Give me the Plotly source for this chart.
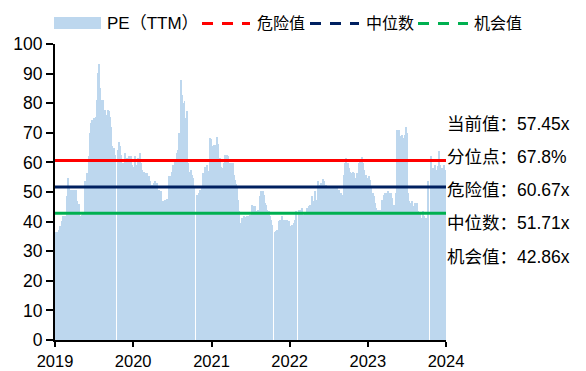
import pandas as pd
import plotly.graph_objects as go

# PE (TTM) series; None marks market holidays with no quote
dates = [
    "2019-01-02", "2019-01-07", "2019-01-15", "2019-01-23", "2019-01-31", "2019-02-04", "2019-02-09",
    "2019-02-15", "2019-02-23", "2019-02-26", "2019-03-02", "2019-03-07", "2019-03-14", "2019-03-20",
    "2019-03-23", "2019-03-26", "2019-03-30", "2019-04-06", "2019-04-11", "2019-04-18", "2019-04-26",
    "2019-05-04", "2019-05-09", "2019-05-13",
    "2019-05-19", "2019-05-27", "2019-05-30", "2019-06-07", "2019-06-12", "2019-06-16", "2019-06-21",
    "2019-06-27", "2019-07-02", "2019-07-08", "2019-07-13", "2019-07-18", "2019-07-24", "2019-07-28",
    "2019-08-02", "2019-08-08", "2019-08-13", "2019-08-18", "2019-08-24", "2019-08-29", "2019-09-02",
    "2019-09-09", "2019-09-13", "2019-09-18", "2019-09-24", "2019-09-29", "2019-10-03", "2019-10-08",
    "2019-10-13",
    "2019-10-19", "2019-10-25", "2019-10-30", "2019-11-04", "2019-11-10", "2019-11-14", "2019-11-22",
    "2019-11-30", "2019-12-11", "2019-12-19", "2019-12-24", "2019-12-31", "2020-01-05", "2020-01-11",
    "2020-01-19", "2020-01-27", "2020-01-31", "2020-02-05", "2020-02-11", "2020-02-16", "2020-02-21",
    "2020-02-26",
    "2020-03-03", "2020-03-10", "2020-03-18", "2020-03-26", "2020-04-03", "2020-04-11", "2020-04-18",
    "2020-04-26", "2020-05-04", "2020-05-09", "2020-05-13",
    "2020-05-19", "2020-05-27", "2020-06-04", "2020-06-12", "2020-06-20", "2020-06-28", "2020-07-05",
    "2020-07-13", "2020-07-21", "2020-07-26", "2020-07-28", "2020-08-02", "2020-08-07", "2020-08-11",
    "2020-08-16", "2020-08-21", "2020-08-26", "2020-08-30", "2020-09-04", "2020-09-09", "2020-09-13",
    "2020-09-18", "2020-09-23", "2020-09-29", "2020-10-06", "2020-10-11", "2020-10-16",
    "2020-10-22", "2020-10-30", "2020-11-07", "2020-11-15", "2020-11-22", "2020-11-30", "2020-12-08",
    "2020-12-16", "2020-12-24", "2020-12-28", "2021-01-03", "2021-01-11", "2021-01-16", "2021-01-24",
    "2021-01-31", "2021-02-05", "2021-02-11", "2021-02-15",
    "2021-02-21", "2021-02-27", "2021-03-04", "2021-03-12", "2021-03-16", "2021-03-24", "2021-04-01",
    "2021-04-07", "2021-04-12", "2021-04-16", "2021-04-23", "2021-04-28", "2021-05-02", "2021-05-08",
    "2021-05-13", "2021-05-18", "2021-05-22", "2021-05-28", "2021-06-05", "2021-06-13", "2021-06-21",
    "2021-06-29", "2021-07-07", "2021-07-11", "2021-07-19", "2021-07-25", "2021-08-02", "2021-08-10",
    "2021-08-14", "2021-08-19", "2021-08-24", "2021-08-28", "2021-09-02", "2021-09-07", "2021-09-11",
    "2021-09-16", "2021-09-22", "2021-09-29", "2021-10-04", "2021-10-08", "2021-10-12", "2021-10-14",
    "2021-10-20", "2021-10-27", "2021-10-31", "2021-11-08", "2021-11-16", "2021-11-24", "2021-12-01",
    "2021-12-09", "2021-12-17", "2021-12-25", "2022-01-02", "2022-01-10", "2022-01-17", "2022-01-25",
    "2022-01-30", "2022-02-03",
    "2022-02-09", "2022-02-17", "2022-02-25", "2022-03-05", "2022-03-13", "2022-03-21", "2022-03-28",
    "2022-04-05", "2022-04-13", "2022-04-20", "2022-04-28", "2022-05-06", "2022-05-11", "2022-05-17",
    "2022-05-25", "2022-06-02", "2022-06-08", "2022-06-14", "2022-06-22", "2022-06-30", "2022-07-08",
    "2022-07-16", "2022-07-23", "2022-07-31", "2022-08-08", "2022-08-15", "2022-08-23", "2022-08-31",
    "2022-09-06", "2022-09-11", "2022-09-16", "2022-09-20", "2022-09-26", "2022-10-01", "2022-10-09",
    "2022-10-13", "2022-10-16",
    "2022-10-22", "2022-10-24", "2022-11-01", "2022-11-09", "2022-11-17", "2022-11-25", "2022-12-03",
    "2022-12-07", "2022-12-13", "2022-12-21", "2022-12-29", "2023-01-03", "2023-01-10", "2023-01-15",
    "2023-01-21", "2023-01-26", "2023-02-03", "2023-02-07", "2023-02-13", "2023-02-20",
    "2023-02-26", "2023-03-06", "2023-03-14", "2023-03-22", "2023-03-30", "2023-04-03", "2023-04-09",
    "2023-04-14", "2023-04-22", "2023-04-30", "2023-05-04", "2023-05-11", "2023-05-15", "2023-05-23",
    "2023-05-27", "2023-06-03", "2023-06-09", "2023-06-15", "2023-06-20", "2023-06-24", "2023-06-29",
    "2023-07-04", "2023-07-08", "2023-07-16", "2023-07-24", "2023-08-01", "2023-08-09", "2023-08-17",
    "2023-08-21", "2023-08-29", "2023-09-06", "2023-09-14", "2023-09-20", "2023-09-26", "2023-10-02",
    "2023-10-08", "2023-10-13",
    "2023-10-19", "2023-10-26", "2023-11-02", "2023-11-10", "2023-11-15", "2023-11-21", "2023-11-26",
    "2023-11-30", "2023-12-07", "2023-12-11", "2023-12-19", "2023-12-27",
]
pe_ttm = [
    36.4, 36.4, 37.0, 38.4, 40.1, 41.8, None,
    41.8, 43.0, 48.5, 54.7, 52.0, 50.8, 50.8,
    47.4, 45.7, 50.8, 50.8, 47.0, 46.0, 41.8,
    42.4, 43.0, None,
    53.6, 54.5, 56.4, 62.0, 69.9, 73.3, 74.4,
    71.0, 75.0, 75.5, 81.1, 90.1, 93.2, 85.0,
    81.0, 77.8, 81.0, 77.8, 76.0, 73.8, 77.8,
    77.2, 75.5, 72.1, 65.4, 64.3, 64.8, 62.6,
    None,
    64.3, 67.0, 65.4, 62.6, 59.2, 59.9, 63.2,
    61.6, 62.2, 62.2, 59.2, 58.6, 62.0, 59.2,
    61.6, 61.6, 63.2, 59.9, 57.5, 56.9, 56.5,
    None,
    56.4, 55.3, 53.6, 52.4, 53.0, 53.6, 53.0,
    50.8, 50.2, 50.2, None,
    46.9, 47.4, 47.6, 55.3, 55.3, 56.9, 59.2,
    60.8, 63.2, 64.3, 62.0, 69.9, 80.6, 87.9,
    82.8, 80.0, 80.6, 75.0, 77.2, 74.4, 59.8,
    56.9, 57.5, 55.9, 54.7, 51.4, None,
    49.1, 49.7, 50.8, 52.0, 56.4, 58.6, 59.2,
    57.0, 68.2, 68.0, 65.6, 65.8, 66.0, 68.5,
    66.2, 61.5, 58.6, None,
    58.2, 59.9, 62.6, 62.6, 62.0, 59.9, 59.9,
    59.9, 55.9, 54.1, 52.7, 52.0, 47.4, 43.5,
    39.6, 39.4, 41.3, 41.8, 41.6, 42.0, 42.0,
    42.4, 45.7, 45.2, 45.2, 43.5, 43.8, 44.0,
    48.5, 50.2, 49.1, 50.2, 49.1, 46.3, 45.7,
    44.0, 43.5, 41.8, 40.7, 39.0, 36.2, None,
    36.4, 36.7, 37.1, 40.1, 40.7, 42.0, 40.7,
    40.7, 40.5, 40.3, 38.4, 39.0, 39.6, 40.7,
    43.5, None,
    43.8, 44.0, 44.6, 42.4, 43.0, 44.6, 45.2,
    45.7, 48.5, 46.9, 50.2, 47.4, 53.6, 52.4,
    53.0, 54.4, 53.6, 52.4, 52.0, 52.0, 51.6,
    51.6, 51.6, 51.4, 51.4, 50.8, 49.7, 48.0,
    49.1, 55.9, 59.8, 61.5, 59.8, 58.1, 56.6,
    56.4, None,
    56.9, 56.4, 54.7, 56.4, 59.8, 60.4, 61.8,
    59.8, 57.5, 55.9, 54.7, 55.3, 54.1, 52.0,
    49.7, 48.5, 46.3, 44.6, 43.8, None,
    44.0, 47.4, 49.1, 49.7, 49.1, 50.2, 48.5,
    49.7, 48.0, 45.7, 44.0, 49.7, 70.8, 70.8,
    68.2, 68.8, 69.3, 68.2, 69.3, 72.1, 70.0,
    49.7, 46.9, 46.3, 46.9, 45.2, 46.3, 46.3,
    43.5, 43.0, 41.3, 43.5, 42.0, 41.3, 41.3,
    53.6, None,
    62.0, 58.1, 58.1, 59.2, 57.5, 58.8, 64.0,
    59.2, 56.9, 58.1, 59.2, 57.45,
]

# Reference levels and summary statistics
level_names = ["危险值", "中位数", "机会值"]
level_values = [60.67, 51.71, 42.86]
level_colors = ["#FF0000", "#002060", "#00B050"]
percentile = 67.8
current_value = pe_ttm[-1]
series_name = "PE（TTM）"

x_range = ["2019-01-01", "2024-01-01"]
year_ticks = ["2019-01-01", "2020-01-01", "2021-01-01", "2022-01-01", "2023-01-01", "2024-01-01"]
year_labels = ["2019", "2020", "2021", "2022", "2023", "2024"]

bar_color = "#BDD7EE"
font_main = "Liberation Sans, Arial, Noto Sans CJK SC"

# Figure geometry (pixels)
W, H = 586, 371
M_L, M_R, M_T, M_B = 55, 140, 44, 31
PW, PH = W - M_L - M_R, H - M_T - M_B


def px_x(px):
    return (px - M_L) / PW


def px_y(py):
    return (H - M_B - py) / PH


# Each bar spans from its own date to the next observation
ts = pd.to_datetime(dates)
ends = list(ts[1:]) + [pd.Timestamp(x_range[1]) - pd.Timedelta(days=2)]
widths = [(e - s).total_seconds() * 1000 for s, e in zip(ts, ends)]

fig = go.Figure()
fig.add_trace(go.Bar(
    x=dates, y=pe_ttm, width=widths, offset=0,
    marker=dict(color=bar_color, line=dict(width=0)),
    showlegend=False, hoverinfo="x+y",
))

# Solid level lines across the plot
for val, col in zip(level_values, level_colors):
    fig.add_shape(type="line", xref="paper", x0=0, x1=1, yref="y", y0=val, y1=val,
                  line=dict(color=col, width=3), layer="above")

# Legend row drawn above the plot
leg_y = px_y(23.5)
fig.add_shape(type="rect", xref="paper", yref="paper",
              x0=px_x(54), x1=px_x(101), y0=px_y(29), y1=px_y(17),
              fillcolor=bar_color, line=dict(width=0))
fig.add_annotation(text=series_name, xref="paper", yref="paper", x=px_x(105), y=leg_y,
                   xanchor="left", yanchor="middle", showarrow=False,
                   font=dict(family=font_main, size=17, color="#000000"))
legend_dash_x = [(202, 250), (310, 359), (418, 468)]
legend_text_x = [255, 364, 472]
for name, col, (a, b), tx in zip(level_names, level_colors, legend_dash_x, legend_text_x):
    fig.add_shape(type="line", xref="paper", yref="paper",
                  x0=px_x(a), x1=px_x(b), y0=leg_y, y1=leg_y,
                  line=dict(color=col, width=3, dash="11px,9px"))
    fig.add_annotation(text=name, xref="paper", yref="paper", x=px_x(tx), y=leg_y,
                       xanchor="left", yanchor="middle", showarrow=False,
                       font=dict(family=font_main, size=16, color="#000000"))

# Side notes
notes = [
    f"当前值：{current_value:.2f}x",
    f"分位点：{percentile:.1f}%",
] + [f"{n}：{v:.2f}x" for n, v in zip(level_names, level_values)]
note_py = [124, 157, 190, 223, 256.5]
for txt, py in zip(notes, note_py):
    fig.add_annotation(text=txt, xref="paper", yref="paper", x=px_x(445), y=px_y(py),
                       xanchor="left", yanchor="middle", showarrow=False,
                       font=dict(family=font_main, size=17.5, color="#000000"))

fig.update_layout(
    width=W, height=H,
    margin=dict(l=M_L, r=M_R, t=M_T, b=M_B, autoexpand=False),
    paper_bgcolor="white", plot_bgcolor="white",
    bargap=0, showlegend=False,
    font=dict(family=font_main, size=17.5, color="#000000"),
    xaxis=dict(type="date", range=x_range, tickmode="array", tickvals=year_ticks,
               ticktext=year_labels, showgrid=False, zeroline=False, automargin=False,
               showline=True, linecolor="#000000", linewidth=2,
               ticks="outside", ticklen=5, tickwidth=1.5, tickcolor="#000000",
               tickfont=dict(size=16.5)),
    yaxis=dict(range=[0, 100], dtick=10, showgrid=False, zeroline=False, automargin=False,
               showline=True, linecolor="#000000", linewidth=2,
               ticks="outside", ticklen=7, tickwidth=1.5, tickcolor="#000000",
               tickfont=dict(size=17.5)),
)

fig.write_html("out.html")
